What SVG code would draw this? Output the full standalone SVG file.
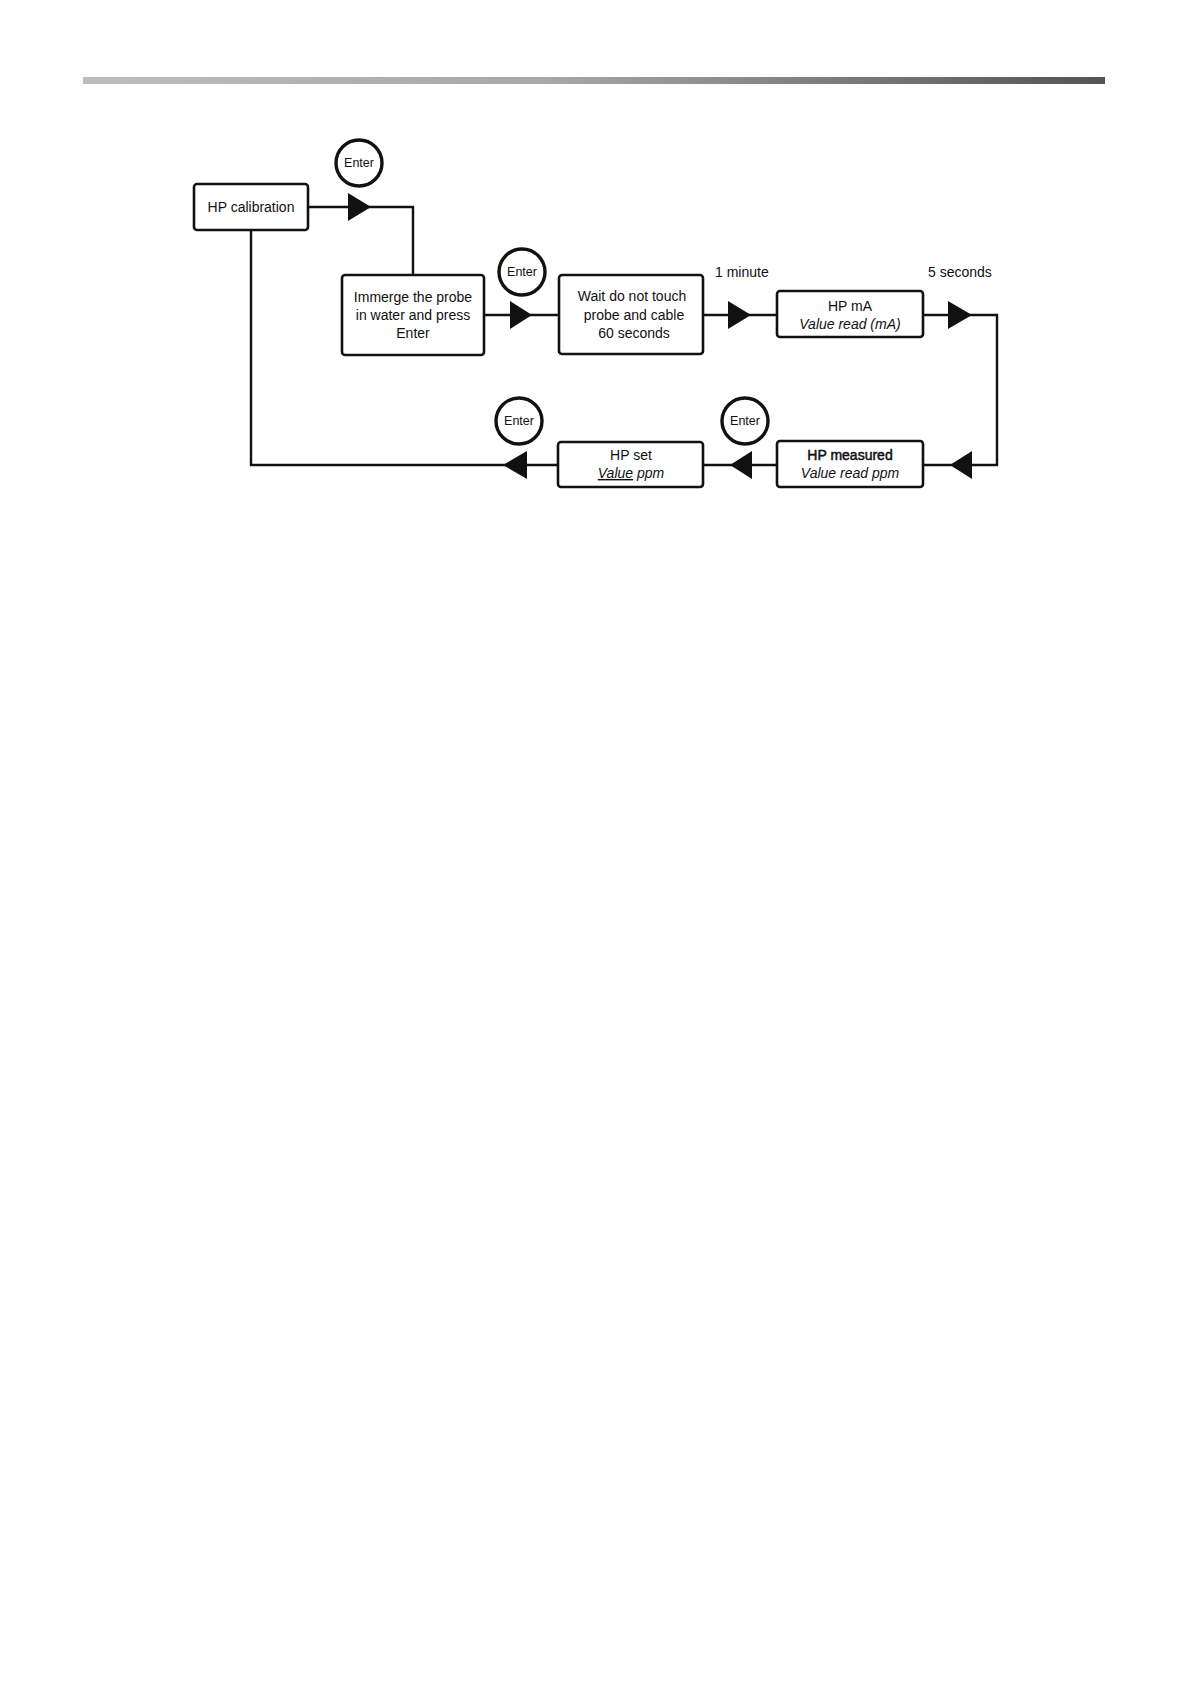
<svg xmlns="http://www.w3.org/2000/svg" width="1191" height="1684" viewBox="0 0 1191 1684">
<defs>
<linearGradient id="bar" x1="0" y1="0" x2="1" y2="0">
<stop offset="0" stop-color="#bdbdbd"/>
<stop offset="0.45" stop-color="#a8a8a8"/>
<stop offset="1" stop-color="#545454"/>
</linearGradient>
</defs>
<style>
.box{fill:#fff;stroke:#111;stroke-width:2.6}
.line{fill:none;stroke:#111;stroke-width:2.4}
.arr{fill:#111}
.btn{fill:#fff;stroke:#111;stroke-width:3.4}
text{font-family:"Liberation Sans",Arial,sans-serif;fill:#111;text-anchor:middle}
.t{font-size:14px}
.i{font-size:14px;font-style:italic}
.b{font-size:12.5px}
.l{font-size:14px;text-anchor:start}
</style>
<rect x="83" y="77" width="1022" height="7" fill="url(#bar)"/>
<g id="connectors">
<polyline class="line" points="308,207 413,207 413,275"/>
<polygon class="arr" points="348,193 371,207 348,221"/>
<line class="line" x1="484" y1="315" x2="558" y2="315"/>
<polygon class="arr" points="510,301 532,315 510,329"/>
<line class="line" x1="703" y1="315" x2="777" y2="315"/>
<polygon class="arr" points="728,301 751,315 728,329"/>
<polyline class="line" points="923,315 997,315 997,465 923,465"/>
<polygon class="arr" points="948,301 972,315 948,329"/>
<polygon class="arr" points="972,451 950,465 972,479"/>
<line class="line" x1="777" y1="465" x2="703" y2="465"/>
<polygon class="arr" points="752,451 730,465 752,479"/>
<polyline class="line" points="558,465 251,465 251,230"/>
<polygon class="arr" points="527,451 503,465 527,479"/>
</g>
<g id="n-calib">
<rect class="box" x="194" y="184" width="114" height="46" rx="3"/>
<text class="t" x="251" y="212">HP calibration</text>
</g>
<g id="n-enter1">
<circle class="btn" cx="359" cy="163" r="23"/>
<text class="b" x="359" y="167">Enter</text>
</g>
<g id="n-immerge">
<rect class="box" x="342" y="275" width="142" height="80" rx="3"/>
<text class="t" x="413" y="302">Immerge the probe</text>
<text class="t" x="413" y="320">in water and press</text>
<text class="t" x="413" y="338">Enter</text>
</g>
<g id="n-enter2">
<circle class="btn" cx="522" cy="272" r="23"/>
<text class="b" x="522" y="276">Enter</text>
</g>
<g id="n-wait">
<rect class="box" x="559" y="275" width="144" height="79" rx="3"/>
<text class="t" x="632" y="301">Wait do not touch</text>
<text class="t" x="634" y="320">probe and cable</text>
<text class="t" x="634" y="338">60 seconds</text>
</g>
<text class="l" x="715" y="277">1 minute</text>
<text class="l" x="928" y="277">5 seconds</text>
<g id="n-hpma">
<rect class="box" x="777" y="291" width="146" height="46" rx="3"/>
<text class="t" x="850" y="311">HP mA</text>
<text class="i" x="850" y="329">Value read (mA)</text>
</g>
<g id="n-measured">
<rect class="box" x="777" y="441" width="146" height="46" rx="3"/>
<text class="t" x="850" y="460" stroke="#111" stroke-width="0.5">HP measured</text>
<text class="i" x="850" y="478">Value read ppm</text>
</g>
<g id="n-enter3">
<circle class="btn" cx="745" cy="421" r="23"/>
<text class="b" x="745" y="425">Enter</text>
</g>
<g id="n-set">
<rect class="box" x="558" y="442" width="145" height="45" rx="3"/>
<text class="t" x="631" y="460">HP set</text>
<text class="i" x="631" y="478"><tspan text-decoration="underline">Value</tspan> ppm</text>
</g>
<g id="n-enter4">
<circle class="btn" cx="519" cy="421" r="23"/>
<text class="b" x="519" y="425">Enter</text>
</g>
</svg>
